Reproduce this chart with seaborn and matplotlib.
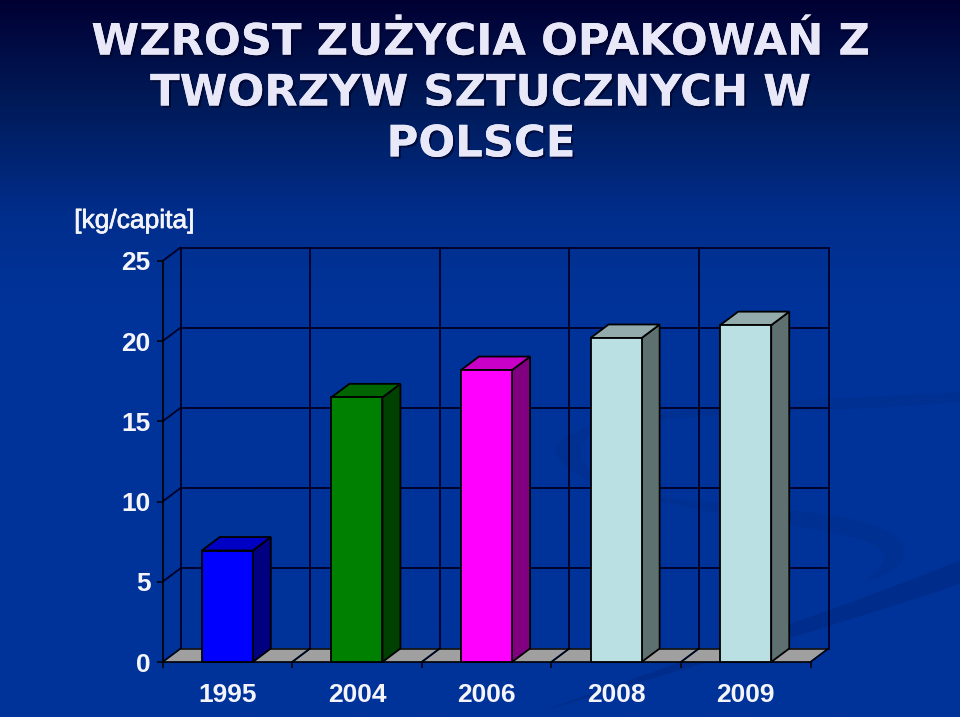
import numpy as np
import pandas as pd
import seaborn as sns
import matplotlib.pyplot as plt
import matplotlib.patheffects as pe
from matplotlib.colors import LinearSegmentedColormap
from matplotlib.patches import PathPatch, Polygon
from matplotlib.path import Path

years = ['1995', '2004', '2006', '2008', '2009']
values = [6.95, 16.5, 18.2, 20.2, 21.0]
front_colors = ['#0000FF', '#008000', '#FF00FF', '#BBE0E3', '#BBE0E3']
top_colors = ['#0000C4', '#006400', '#C800C8', '#93ABAD', '#93ABAD']
side_colors = ['#000080', '#004000', '#800080', '#5F7071', '#5F7071']
y_ticks = [0, 5, 10, 15, 20, 25]
title = 'WZROST ZUŻYCIA OPAKOWAŃ Z\nTWORZYW SZTUCZNYCH W\nPOLSCE'

W, H = 960, 717
sns.set_style('white')
plt.rcParams['font.family'] = ['Liberation Sans', 'DejaVu Sans']

fig = plt.figure(figsize=(W / 100, H / 100), dpi=100)


def swirl(axis, start, curves, alpha):
    # closed shape out of cubic pieces, only for the faint slide decoration
    verts = [start]
    codes = [Path.MOVETO]
    for c in curves:
        verts += list(c)
        codes += [Path.CURVE4] * 3
    axis.add_patch(PathPatch(Path(verts, codes), facecolor='#002A84', alpha=alpha, lw=0))


# slide background
bg = fig.add_axes([0, 0, 1, 1], zorder=0)
cmap = LinearSegmentedColormap.from_list('slide', [(0, '#000033'), (0.14, '#001A58'), (0.3, '#002E8C'), (0.42, '#003399'), (1, '#003399')])
bg.imshow(np.linspace(0, 1, 256).reshape(-1, 1), aspect='auto', cmap=cmap, extent=[0, W, H, 0], vmin=0, vmax=1)
swirl(bg, (540, 712), [[(680, 660), (840, 610), (960, 560)], [(960, 568), (960, 576), (960, 584)], [(840, 625), (680, 670), (540, 712)]], 0.6)
swirl(bg, (960, 392), [[(820, 400), (590, 405), (555, 445)], [(552, 462), (580, 478), (615, 492)], [(585, 470), (570, 455), (590, 435)], [(640, 410), (820, 415), (960, 402)]], 0.3)
swirl(bg, (640, 495), [[(760, 510), (900, 510), (905, 550)], [(905, 565), (890, 575), (865, 582)], [(885, 565), (890, 555), (875, 545)], [(830, 525), (720, 520), (640, 495)]], 0.3)
bg.set_xlim(0, W)
bg.set_ylim(H, 0)
bg.axis('off')

# front plane of the plot in pixels
left, right, bottom, top = 162.5, 810.5, 662, 261
ax = fig.add_axes([left / W, 1 - bottom / H, (right - left) / W, (bottom - top) / H], zorder=1)
ax.patch.set_alpha(0)

df = pd.DataFrame({'year': years, 'value': values})
sns.barplot(data=df, x='year', y='value', hue='year', palette=front_colors, width=0.394,
            saturation=1, edgecolor='black', linewidth=1.3, legend=False, ax=ax)
ax.set_xlim(-0.5, len(years) - 0.5)
ax.set_ylim(0, 25)

# depth of the fake 3d, in data units
dx = 18 / ((right - left) / len(years))
dy = 13.5 / ((bottom - top) / 25)
line = dict(color='#000024', lw=1.3, clip_on=False, zorder=0.5)

# walls
x0, x1 = ax.get_xlim()
for v in y_ticks[1:]:
    ax.plot([x0 + dx, x1 + dx], [v + dy, v + dy], **line)
    ax.plot([x0, x0 + dx], [v, v + dy], **line)
for k in range(len(years) + 1):
    ax.plot([x0 + k + dx, x0 + k + dx], [dy, 25 + dy], **line)

# floor, one grey piece per category
for k in range(len(years)):
    gap = 0.012
    a, b = x0 + k + gap, x0 + k + 1 - gap
    ax.add_patch(Polygon([(a, 0), (b, 0), (b + dx, dy), (a + dx, dy)], closed=True, facecolor='#A0A0A0',
                         edgecolor='none', clip_on=False, zorder=0.6))
    ax.plot([x0 + k, x0 + k + dx], [0, dy], color='black', lw=1.1, clip_on=False, zorder=0.7)
ax.plot([x1, x1 + dx], [0, dy], color='black', lw=1.1, clip_on=False, zorder=0.7)
ax.plot([x0 + dx, x1 + dx], [dy, dy], color='black', lw=1.1, clip_on=False, zorder=0.7)

# bar sides and tops from the drawn bars
for bar, c_top, c_side in zip(ax.patches[:len(years)], top_colors, side_colors):
    bar.set_zorder(3)
    bar.set_clip_on(False)
    xa, xb, h = bar.get_x(), bar.get_x() + bar.get_width(), bar.get_height()
    ax.add_patch(Polygon([(xb, 0), (xb + dx, dy), (xb + dx, h + dy), (xb, h)], closed=True, facecolor=c_side,
                         edgecolor='black', lw=1.3, clip_on=False, zorder=2.5))
    ax.add_patch(Polygon([(xa, h), (xb, h), (xb + dx, h + dy), (xa + dx, h + dy)], closed=True, facecolor=c_top,
                         edgecolor='black', lw=1.3, clip_on=False, zorder=2.5))

for side in ['top', 'right']:
    ax.spines[side].set_visible(False)
for side in ['left', 'bottom']:
    ax.spines[side].set_color('black')
    ax.spines[side].set_linewidth(1.2)
    ax.spines[side].set_zorder(2)

ax.set_yticks(y_ticks)
ax.set_xticks(np.arange(x0, x1 + 0.5), minor=True)
ax.tick_params(axis='x', which='major', length=0, pad=15)
ax.tick_params(axis='x', which='minor', bottom=True, length=4, width=1.1, color='black')
ax.tick_params(axis='y', left=True, length=4.5, width=1.1, color='black', pad=4)
ax.set_xlabel('')
ax.set_ylabel('')
for t in ax.get_xticklabels() + ax.get_yticklabels():
    t.set_fontsize(19)
    t.set_fontweight('bold')
    t.set_color('#F4F4FA')

fig.text(134.5 / W, 1 - 221 / H, '[kg/capita]', color='#F4F4FA', fontsize=19, ha='center', va='center',
         path_effects=[pe.withStroke(linewidth=0.5, foreground='#F4F4FA')])
fig.text(481 / W, 1 - 93.5 / H, title, fontsize=31.2, fontweight='bold', family='DejaVu Sans', color='#E8E8F8',
         ha='center', va='center', linespacing=1.27, zorder=5,
         path_effects=[pe.withSimplePatchShadow(offset=(1.5, -1.5), shadow_rgbFace='#000022', alpha=0.6), pe.Normal()])

fig.savefig('out.png', dpi=100)
